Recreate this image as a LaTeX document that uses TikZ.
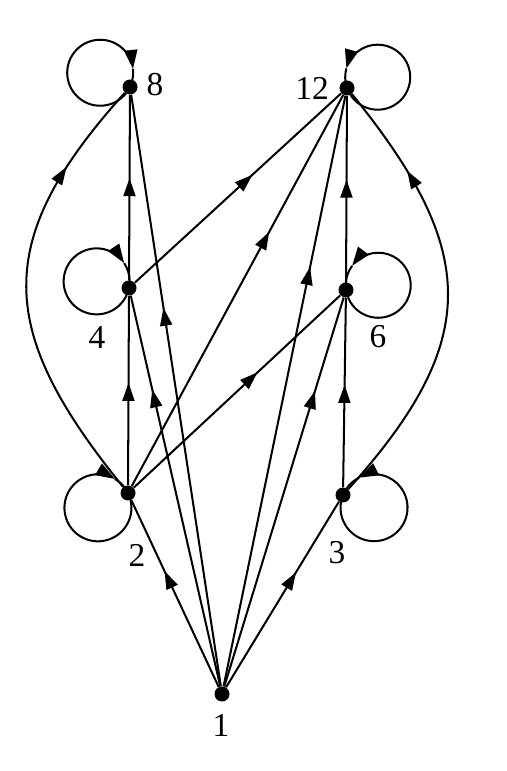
\documentclass[tikz,border=0pt]{standalone}
\usepackage{fontspec}
\setmainfont{Liberation Serif}
\usetikzlibrary{arrows.meta,calc,decorations.markings}
\tikzset{
  dot/.style={circle,fill=black,inner sep=0pt,minimum size=3mm},
  numlabel/.style={font=\fontsize{19}{22}\selectfont,inner sep=0pt},
  flow/.style={line width=1.15pt,postaction={decorate},
    decoration={markings,mark=at position #1 with
      {\arrow{Triangle[length=3.6mm,width=2.4mm]}}}},
  flow/.default=0.55,
  loopline/.style={line width=1.15pt},
  looptip/.style={line width=1.15pt,-{Triangle[length=3.8mm,width=2.6mm]}}
}
\begin{document}
\begin{tikzpicture}
  \useasboundingbox (0,0) rectangle (10.14,15.42);
  \node[dot] (n8) at (2.60,13.68) {};
  \node[dot] (n12) at (6.94,13.66) {};
  \node[dot] (n4) at (2.58,9.66) {};
  \node[dot] (n6) at (6.92,9.62) {};
  \node[dot] (n2) at (2.56,5.56) {};
  \node[dot] (n3) at (6.86,5.52) {};
  \node[dot] (n1) at (4.44,1.54) {};
  \node[numlabel] (l8) at ($(n8)+(0.50,0.04)$) {8};
  \node[numlabel] (l12) at ($(n12)+(-0.70,0)$) {12};
  \node[numlabel] (l4) at ($(n4)+(-0.64,-1.00)$) {4};
  \node[numlabel] (l6) at ($(n6)+(0.64,-0.94)$) {6};
  \node[numlabel] (l2) at ($(n2)+(0.18,-1.24)$) {2};
  \node[numlabel] (l3) at ($(n3)+(-0.12,-1.16)$) {3};
  \node[numlabel] (l1) at ($(n1)+(-0.02,-0.62)$) {1};
  \draw[flow=0.55] (n4) -- (n8);
  \draw[flow=0.55] (n6) -- (n12);
  \draw[flow=0.54] (n2) -- (n4);
  \draw[flow=0.54] (n3) -- (n6);
  \draw[flow=0.62] (n1) -- (n2);
  \draw[flow=0.62] (n1) -- (n3);
  \draw[flow=0.64] (n1) -- (n8);
  \draw[flow=0.76] (n1) -- (n4);
  \draw[flow=0.76] (n1) -- (n6);
  \draw[flow=0.71] (n1) -- (n12);
  \draw[flow=0.6] (n2) -- (n6);
  \draw[flow=0.65] (n2) -- (n12);
  \draw[flow=0.57] (n4) -- (n12);
  \draw[flow=0.79] (n2) to[out=129,in=228,looseness=1.3] (n8);
  \draw[flow=0.79] (n3) to[out=48,in=309,looseness=1.3] (n12);
  % loops: arc up to the arrow tip, then the short rest back to the dot
  \draw[looptip] (n8) ++(-122.3:0.15)
    arc[start angle=-38.6,delta angle=-314.8,radius=0.66] coordinate (t8);
  \draw[loopline] (t8) arc[start angle=-353.4,delta angle=-20,radius=0.66];
  \draw[looptip] (n4) ++(-108.3:0.15)
    arc[start angle=-24.6,delta angle=-301.8,radius=0.66] coordinate (t4);
  \draw[loopline] (t4) arc[start angle=-326.4,delta angle=-33,radius=0.66];
  \draw[looptip] (n2) ++(-70.3:0.15)
    arc[start angle=13.4,delta angle=-313.8,radius=0.67] coordinate (t2);
  \draw[loopline] (t2) arc[start angle=-300.4,delta angle=-21,radius=0.67];
  \draw[looptip] (n12) ++(296.3:0.15)
    arc[start angle=212.6,delta angle=311.8,radius=0.65] coordinate (t12);
  \draw[loopline] (t12) arc[start angle=524.4,delta angle=23,radius=0.65];
  \draw[looptip] (n6) ++(285.3:0.15)
    arc[start angle=201.6,delta angle=301.8,radius=0.65] coordinate (t6);
  \draw[loopline] (t6) arc[start angle=503.4,delta angle=33,radius=0.65];
  \draw[looptip] (n3) ++(254.3:0.15)
    arc[start angle=170.6,delta angle=305.8,radius=0.67] coordinate (t3);
  \draw[loopline] (t3) arc[start angle=476.4,delta angle=29,radius=0.67];
\end{tikzpicture}
\end{document}
